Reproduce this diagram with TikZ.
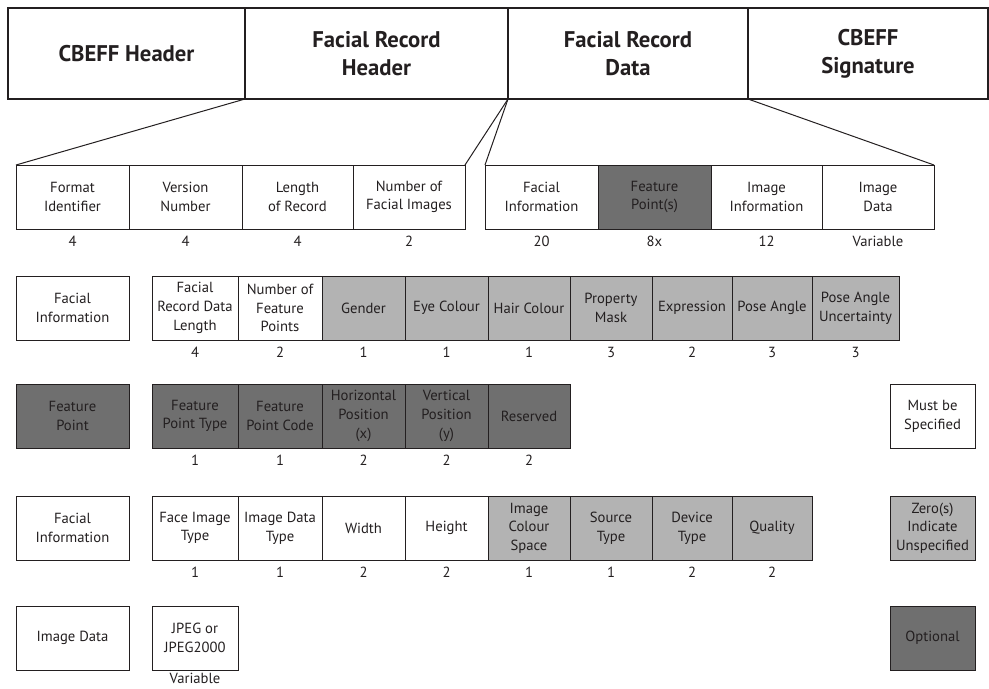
\documentclass[tikz,border=0pt]{standalone}
\usepackage{fontspec}
\setmainfont{PT Sans}
\usetikzlibrary{positioning}
\definecolor{optgray}{RGB}{111,111,111}
\definecolor{unspgray}{RGB}{179,179,179}
\definecolor{ink}{RGB}{35,31,32}

\tikzset{
  field/.style={draw=ink, text=ink, line width=0.75pt, outer sep=0pt, inner sep=1pt,
    minimum height=48pt, align=center, font=\fontsize{11}{14}\selectfont},
  opt/.style={field, fill=optgray},
  unsp/.style={field, fill=unspgray},
  hdr/.style={draw=ink, text=ink, line width=1.5pt, outer sep=0pt, minimum height=68.25pt,
    align=center, font=\fontsize{17}{21}\selectfont\bfseries},
  size/.style={text=ink, inner sep=0pt, font=\fontsize{11}{13}\selectfont},
  fan/.style={draw=ink, line width=0.75pt},
}

\begin{document}
\begin{tikzpicture}[x=0.75pt,y=-0.75pt]
  \useasboundingbox (0,0) rectangle (989,689);

  % record layout
  \node[hdr, minimum width=177.75pt, anchor=north west] (cbeffhdr) at (8,8) {CBEFF Header};
  \node[hdr, minimum width=197.25pt, right=0pt of cbeffhdr] (frhdr) {Facial Record\\Header};
  \node[hdr, minimum width=180pt, right=0pt of frhdr] (frdata) {Facial Record\\Data};
  \node[hdr, minimum width=180pt, right=0pt of frdata] (cbeffsig) {CBEFF\\Signature};

  % facial record header
  \node[field, minimum width=84.75pt, anchor=north west] (fmtid) at (16,165) {Format\\Identifier};
  \node[field, minimum width=84.75pt, right=0pt of fmtid] (version) {Version\\Number};
  \node[field, minimum width=83.25pt, right=0pt of version] (reclen) {Length\\of Record};
  \node[field, minimum width=84pt, right=0pt of reclen] (nimages) {Number of\\Facial Images};
  \node[size, below=5pt of fmtid] (fmtid-n) {4};
  \node[size, below=5pt of version] (version-n) {4};
  \node[size, below=5pt of reclen] (reclen-n) {4};
  \node[size, below=5pt of nimages] (nimages-n) {2};

  % facial record data
  \node[field, minimum width=84.75pt, anchor=north west] (facinfo) at (485,165) {Facial\\Information};
  \node[opt, minimum width=84.75pt, right=0pt of facinfo] (featpts) {Feature\\Point(s)};
  \node[field, minimum width=83.25pt, right=0pt of featpts] (imginfo) {Image\\Information};
  \node[field, minimum width=84pt, right=0pt of imginfo] (imgdata) {Image\\Data};
  \node[size, below=5pt of facinfo] (facinfo-n) {20};
  \node[size, below=5pt of featpts] (featpts-n) {8x};
  \node[size, below=5pt of imginfo] (imginfo-n) {12};
  \node[size, below=5pt of imgdata] (imgdata-n) {Variable};

  \draw[fan] (frhdr.south west) -- (fmtid.north west);
  \draw[fan] (frhdr.south east) -- (nimages.north east);
  \draw[fan] (frdata.south west) -- (facinfo.north west);
  \draw[fan] (frdata.south east) -- (imgdata.north east);

  % facial information
  \node[field, minimum width=84.75pt, anchor=north west] (fiLabel) at (16,276) {Facial\\Information};
  \node[field, minimum width=64.5pt, anchor=north west] (fiLen) at (152,276) {Facial\\Record Data\\Length};
  \node[field, minimum width=63pt, right=0pt of fiLen] (fiNpts) {Number of\\Feature\\Points};
  \node[unsp, minimum width=62.25pt, right=0pt of fiNpts] (fiGender) {Gender};
  \node[unsp, minimum width=62.25pt, right=0pt of fiGender] (fiEye) {Eye Colour};
  \node[unsp, minimum width=61.5pt, right=0pt of fiEye] (fiHair) {Hair Colour};
  \node[unsp, minimum width=61.5pt, right=0pt of fiHair] (fiMask) {Property\\Mask};
  \node[unsp, minimum width=60pt, right=0pt of fiMask] (fiExpr) {Expression};
  \node[unsp, minimum width=60pt, right=0pt of fiExpr] (fiPose) {Pose Angle};
  \node[unsp, minimum width=65.25pt, right=0pt of fiPose] (fiPoseU) {Pose Angle\\Uncertainty};
  \node[size, below=5pt of fiLen] (fiLen-n) {4};
  \node[size, below=5pt of fiNpts] (fiNpts-n) {2};
  \node[size, below=5pt of fiGender] (fiGender-n) {1};
  \node[size, below=5pt of fiEye] (fiEye-n) {1};
  \node[size, below=5pt of fiHair] (fiHair-n) {1};
  \node[size, below=5pt of fiMask] (fiMask-n) {3};
  \node[size, below=5pt of fiExpr] (fiExpr-n) {2};
  \node[size, below=5pt of fiPose] (fiPose-n) {3};
  \node[size, below=5pt of fiPoseU] (fiPoseU-n) {3};

  % feature point
  \node[opt, minimum width=84.75pt, anchor=north west] (fpLabel) at (16,384) {Feature\\Point};
  \node[opt, minimum width=64.5pt, anchor=north west] (fpType) at (152,384) {Feature\\Point Type};
  \node[opt, minimum width=63pt, right=0pt of fpType] (fpCode) {Feature\\Point Code};
  \node[opt, minimum width=62.25pt, right=0pt of fpCode] (fpX) {Horizontal\\Position\\(x)};
  \node[opt, minimum width=62.25pt, right=0pt of fpX] (fpY) {Vertical\\Position\\(y)};
  \node[opt, minimum width=61.5pt, right=0pt of fpY] (fpRes) {Reserved};
  \node[size, below=5pt of fpType] (fpType-n) {1};
  \node[size, below=5pt of fpCode] (fpCode-n) {1};
  \node[size, below=5pt of fpX] (fpX-n) {2};
  \node[size, below=5pt of fpY] (fpY-n) {2};
  \node[size, below=5pt of fpRes] (fpRes-n) {2};

  % image information
  \node[field, minimum width=84.75pt, anchor=north west] (iiLabel) at (16,496) {Facial\\Information};
  \node[field, minimum width=64.5pt, anchor=north west] (iiFace) at (152,496) {Face Image\\Type};
  \node[field, minimum width=63pt, right=0pt of iiFace] (iiData) {Image Data\\Type};
  \node[field, minimum width=62.25pt, right=0pt of iiData] (iiWidth) {Width};
  \node[field, minimum width=62.25pt, right=0pt of iiWidth] (iiHeight) {Height};
  \node[unsp, minimum width=61.5pt, right=0pt of iiHeight] (iiSpace) {Image\\Colour\\Space};
  \node[unsp, minimum width=61.5pt, right=0pt of iiSpace] (iiSource) {Source\\Type};
  \node[unsp, minimum width=60pt, right=0pt of iiSource] (iiDevice) {Device\\Type};
  \node[unsp, minimum width=60pt, right=0pt of iiDevice] (iiQuality) {Quality};
  \node[size, below=5pt of iiFace] (iiFace-n) {1};
  \node[size, below=5pt of iiData] (iiData-n) {1};
  \node[size, below=5pt of iiWidth] (iiWidth-n) {2};
  \node[size, below=5pt of iiHeight] (iiHeight-n) {2};
  \node[size, below=5pt of iiSpace] (iiSpace-n) {1};
  \node[size, below=5pt of iiSource] (iiSource-n) {1};
  \node[size, below=5pt of iiDevice] (iiDevice-n) {2};
  \node[size, below=5pt of iiQuality] (iiQuality-n) {2};

  % image data
  \node[field, minimum width=84.75pt, anchor=north west] (idLabel) at (16,606) {Image Data};
  \node[field, minimum width=64.5pt, anchor=north west] (idJpeg) at (152,606) {JPEG or\\JPEG2000};
  \node[size, below=2.5pt of idJpeg] (idJpeg-n) {Variable};

  % legend
  \node[field, minimum width=63.75pt, anchor=north west] (keyMust) at (890,384) {Must be\\Specified};
  \node[unsp, minimum width=63.75pt, anchor=north west] (keyZero) at (890,496) {Zero(s)\\Indicate\\Unspecified};
  \node[opt, minimum width=63.75pt, anchor=north west] (keyOpt) at (890,606) {Optional};
\end{tikzpicture}
\end{document}
